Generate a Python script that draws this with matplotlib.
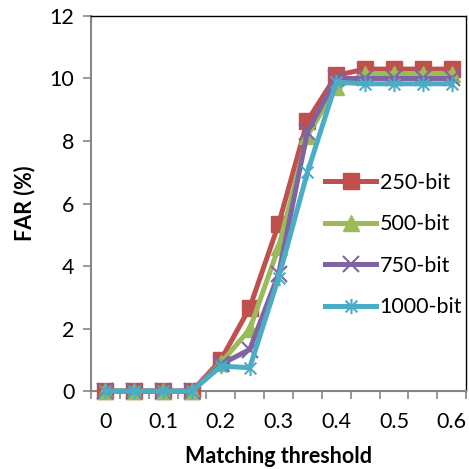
import numpy as np
import matplotlib
matplotlib.use("Agg")
from matplotlib import pyplot as plt
from matplotlib.path import Path

thresholds = ["0", "0.05", "0.1", "0.15", "0.2", "0.25", "0.3",
              "0.35", "0.4", "0.45", "0.5", "0.55", "0.6"]
far_250 = [0, 0, 0, 0, 1.0, 2.67, 5.34, 8.65, 10.1, 10.3, 10.3, 10.3, 10.3]
far_500 = [0, 0, 0, 0, 0.9, 1.98, 4.6, 8.17, 9.72, 10.15, 10.15, 10.15, 10.15]
far_750 = [0, 0, 0, 0, 0.86, 1.33, 3.75, 8.3, 10.0, 10.0, 10.0, 10.0, 10.0]
far_1000 = [0, 0, 0, 0, 0.8, 0.75, 3.63, 7.0, 9.88, 9.83, 9.83, 9.83, 9.83]
labels = ["250-bit", "500-bit", "750-bit", "1000-bit"]

plt.rcParams["font.family"] = ["Lato", "DejaVu Sans"]

# asterisk like marker: x plus vertical bar
star = Path([(-1, -1), (1, 1), (-1, 1), (1, -1), (0, -1.3), (0, 1.3)],
            [Path.MOVETO, Path.LINETO, Path.MOVETO, Path.LINETO,
             Path.MOVETO, Path.LINETO])

styles = [
    dict(color="#C0504D", marker="s", ms=11, mec="#C0504D"),
    dict(color="#9BBB59", marker="^", ms=11, mec="#9BBB59"),
    dict(color="#8064A2", marker="x", ms=11, mew=1.5),
    dict(color="#4BACC6", marker=star, ms=11, mew=1.5),
]

fig = plt.figure(figsize=(4.69, 4.69), dpi=100)
ax = fig.add_axes([0.194, 0.166, 0.8, 0.8])

x = np.arange(len(thresholds))
for y, lab, st in zip([far_250, far_500, far_750, far_1000], labels, styles):
    ax.plot(x, y, lw=3.6, label=lab, clip_on=False, zorder=3, **st)

ax.set_xlim(-0.5, len(thresholds) - 0.5)
ax.set_ylim(0, 12)
ax.set_yticks(np.arange(0, 13, 2))
ax.set_xticks(x[::2])
ax.set_xticklabels(thresholds[::2])
ax.set_xticks(np.arange(-0.5, len(thresholds)), minor=True)
ax.tick_params(axis="x", which="major", length=0, pad=15, labelsize=15.5)
ax.tick_params(axis="x", which="minor", length=6, color="#868686", width=1.2)
ax.tick_params(axis="y", length=6, color="#868686", width=1.2, labelsize=15.5, pad=6)

for s in ["left", "bottom"]:
    ax.spines[s].set_color("#868686")
    ax.spines[s].set_linewidth(1.5)
for s in ["top", "right"]:
    ax.spines[s].set_color("black")
    ax.spines[s].set_linewidth(1.0)

ax.set_xlabel("Matching threshold", fontsize=15.5, fontweight="bold", labelpad=10)
ax.set_ylabel("FAR (%)", fontsize=15.5, fontweight="bold", labelpad=10)

ax.legend(loc="center left", bbox_to_anchor=(0.6, 0.39), frameon=False,
          fontsize=15.5, numpoints=1, handlelength=2.4, handletextpad=0.15,
          labelspacing=1.0, borderaxespad=0)

fig.savefig("out.png", dpi=100)
